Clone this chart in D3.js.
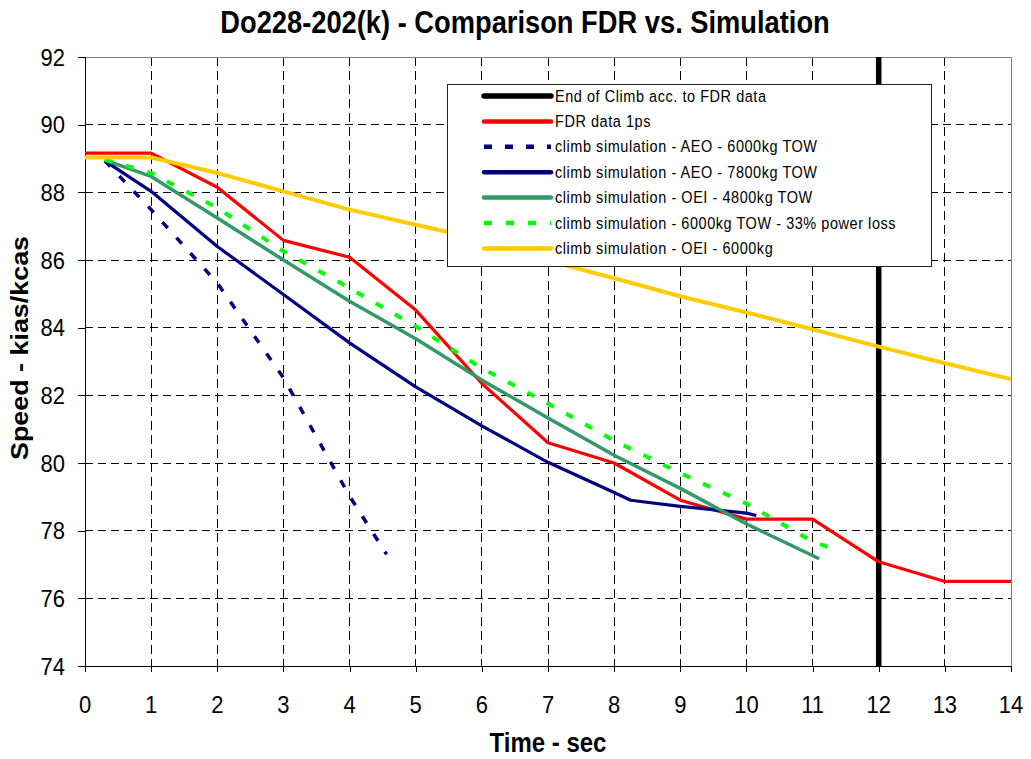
<!DOCTYPE html>
<html>
<head>
<meta charset="utf-8">
<script src="https://cdn.jsdelivr.net/npm/d3@7"></script>
<style>
  html, body { margin: 0; padding: 0; background: #fff; }
  svg { display: block; font-family: "Liberation Sans", Arial, sans-serif; }
</style>
</head>
<body>
<svg id="chart" width="1031" height="759"></svg>
<script>
// ---------------- data ----------------
const titleText = "Do228-202(k) - Comparison FDR vs. Simulation";
const xLabel = "Time - sec";
const yLabel = "Speed - kias/kcas";

const xTicks = [0,1,2,3,4,5,6,7,8,9,10,11,12,13,14];
const yTicks = [74,76,78,80,82,84,86,88,90,92];

const endOfClimbTime = 12;

const fdrTime  = [0,1,2,3,4,5,6,7,8,9,10,11,12,13,14];
const fdrSpeed = [89.16,89.16,88.15,86.58,86.08,84.52,82.35,80.6,80.0,78.9,78.34,78.34,77.08,76.5,76.5];

const aeo6000Time  = [0.3,1,2,3,4,4.56];
const aeo6000Speed = [88.93,87.49,85.32,82.52,79.02,77.3];

const aeo7800Time  = [0.3,1,2,3,4,5,6,7,8,8.25,9,10,10.15];
const aeo7800Speed = [88.93,88.03,86.4,84.98,83.55,82.25,81.1,80.02,79.13,78.9,78.72,78.52,78.45];

const oei4800Time  = [0.3,1,2,3,4,5,6,7,8,9,10,11.1];
const oei4800Speed = [88.95,88.47,87.24,86.0,84.78,83.67,82.45,81.33,80.23,79.25,78.2,77.17];

const loss33Time  = [0.3,1,2,3,4,5,6,7,8,9,10,11,11.4];
const loss33Speed = [88.97,88.57,87.54,86.26,85.17,84.04,82.8,81.76,80.66,79.7,78.8,77.68,77.4];

const oei6000Time  = [0,1,2,3,4,5,6,7,8,9,10,11,12,13,14];
const oei6000Speed = [89.03,89.03,88.57,88.03,87.49,87.04,86.6,85.98,85.46,84.93,84.45,83.95,83.44,82.95,82.48];

const legendNames = [
  "End of Climb acc. to FDR data",
  "FDR data 1ps",
  "climb simulation - AEO - 6000kg TOW",
  "climb simulation - AEO - 7800kg TOW",
  "climb simulation - OEI - 4800kg TOW",
  "climb simulation - 6000kg TOW - 33% power loss",
  "climb simulation - OEI - 6000kg"
];

// ---------------- styles ----------------
const styles = [
  {color:"#000000", width:5.5, dash:null},
  {color:"#FF0000", width:3.2, dash:null},
  {color:"#000080", width:3.5, dash:"8,13"},
  {color:"#000080", width:3.2, dash:null},
  {color:"#339966", width:3.5, dash:null},
  {color:"#00FF00", width:4,   dash:"8,14"},
  {color:"#FFCC00", width:4,   dash:null}
];

const series = [
  {t: fdrTime, v: fdrSpeed, s: 1},
  {t: aeo6000Time, v: aeo6000Speed, s: 2},
  {t: aeo7800Time, v: aeo7800Speed, s: 3},
  {t: oei4800Time, v: oei4800Speed, s: 4},
  {t: loss33Time, v: loss33Speed, s: 5},
  {t: oei6000Time, v: oei6000Speed, s: 6}
];

// ---------------- layout ----------------
const SY = 1.12; // vertical text stretch
const svg = d3.select("#chart");
const L = 85, R = 1011, T = 57, B = 666;
const x = d3.scaleLinear().domain([0,14]).range([L,R]);
const y = d3.scaleLinear().domain([74,92]).range([B,T]);

function stext(g, px, py, str, size, weight, anchor) {
  return g.append("text")
    .attr("transform", `translate(${px},${py}) scale(1,${SY})`)
    .attr("font-size", size)
    .attr("font-weight", weight || "normal")
    .attr("text-anchor", anchor || "start")
    .attr("fill", "#000")
    .text(str);
}

// grid
const grid = svg.append("g");
grid.selectAll("line.h").data(yTicks.filter(d => d > 74 && d < 92)).enter().append("line")
  .attr("x1", L).attr("x2", R).attr("y1", d => y(d)).attr("y2", d => y(d))
  .attr("stroke", "#000").attr("stroke-width", 1).attr("stroke-dasharray", "8,5")
  .attr("shape-rendering", "crispEdges");
grid.selectAll("line.v").data(xTicks.filter(d => d > 0 && d < 14)).enter().append("line")
  .attr("y1", T).attr("y2", B).attr("x1", d => x(d)).attr("x2", d => x(d))
  .attr("stroke", "#000").attr("stroke-width", 1).attr("stroke-dasharray", "9,5")
  .attr("shape-rendering", "crispEdges");

// top/right border
svg.append("path")
  .attr("d", `M${L},${T}H${R}V${B}`)
  .attr("fill", "none").attr("stroke", "#808080").attr("stroke-width", 1)
  .attr("shape-rendering", "crispEdges");

// axes
const xAxis = d3.axisBottom(x).tickValues(xTicks).tickSize(6).tickFormat("");
const yAxis = d3.axisLeft(y).tickValues(yTicks).tickSize(7).tickFormat("");
const gx = svg.append("g").attr("transform", `translate(0,${B})`).call(xAxis);
const gy = svg.append("g").attr("transform", `translate(${L},0)`).call(yAxis);
[gx, gy].forEach(g => {
  g.select(".domain").attr("stroke", "#000").attr("stroke-width", 1).attr("shape-rendering", "crispEdges");
  g.selectAll(".tick line").attr("stroke", "#000").attr("shape-rendering", "crispEdges");
});
gx.select(".domain").attr("d", `M${L},0H${R}`);
gy.select(".domain").attr("d", `M0,${B}V${T}`);

// tick labels
const labels = svg.append("g");
xTicks.forEach(d => stext(labels, x(d), 713, d3.format("d")(d), 22, "normal", "middle"));
yTicks.forEach(d => stext(labels, 65, y(d) + 8.5, d3.format("d")(d), 22, "normal", "end"));

// end of climb vertical line
svg.append("line")
  .attr("x1", x(endOfClimbTime)).attr("x2", x(endOfClimbTime))
  .attr("y1", y(92)).attr("y2", y(74))
  .attr("stroke", styles[0].color).attr("stroke-width", styles[0].width);

// data lines
const lineGen = d3.line().x(d => x(d[0])).y(d => y(d[1]));
series.forEach(sr => {
  const st = styles[sr.s];
  const pts = sr.t.map((t, i) => [t, sr.v[i]]);
  svg.append("path")
    .attr("d", lineGen(pts))
    .attr("fill", "none")
    .attr("stroke", st.color)
    .attr("stroke-width", st.width)
    .attr("stroke-linejoin", "round")
    .attr("stroke-dasharray", st.dash);
});

// legend
const lg = svg.append("g");
const LX0 = 447, LY0 = 84, LX1 = 931, LY1 = 266;
lg.append("rect").attr("x", LX0 + 0.5).attr("y", LY0 + 0.5)
  .attr("width", LX1 - LX0).attr("height", LY1 - LY0)
  .attr("fill", "#fff").attr("stroke", "#222").attr("stroke-width", 1);
legendNames.forEach((name, i) => {
  const st = styles[i];
  const cy = 96 + i * 25.4;
  lg.append("line")
    .attr("x1", 484).attr("x2", 551).attr("y1", cy).attr("y2", cy)
    .attr("stroke", st.color).attr("stroke-width", i === 0 ? 5.5 : 4.5)
    .attr("stroke-linecap", st.dash ? "butt" : "round")
    .attr("stroke-dasharray", st.dash);
  stext(lg, 555, cy + 5.5, name, 14.5, "normal", "start")
    .attr("letter-spacing", 0.55);
});

// titles
stext(svg, 525, 33, titleText, 27.3, "bold", "middle");
stext(svg, 548, 752, xLabel, 24, "bold", "middle");
svg.append("text")
  .attr("transform", `translate(28,348) rotate(-90) scale(${SY},1)`)
  .attr("font-size", 24).attr("font-weight", "bold").attr("text-anchor", "middle")
  .text(yLabel);
</script>
</body>
</html>
